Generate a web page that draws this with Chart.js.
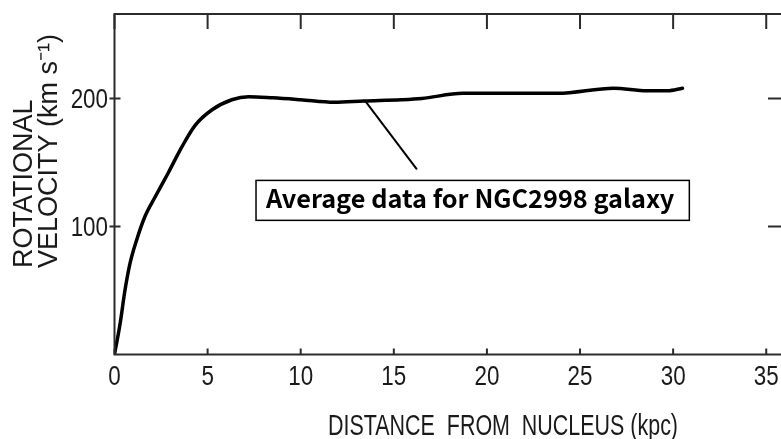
<!DOCTYPE html>
<html>
<head>
<meta charset="utf-8">
<title>NGC2998 rotation curve</title>
<script src="https://cdn.jsdelivr.net/npm/chart.js@4/dist/chart.umd.min.js"></script>
<style>
	html, body { margin: 0; padding: 0; overflow: hidden; background: #fff; }
	#wrap { width: 800px; height: 439px; }
</style>
</head>
<body>
<div id="wrap"><canvas id="myChart" width="800" height="439"></canvas></div>
<script>
// distance from nucleus (kpc) and rotational velocity (km/s)
const distance = [0, 0.3, 0.56, 0.83, 1.19, 1.64, 2.18, 2.89, 3.61, 4.33, 5.22, 6.3, 7.2, 8.5, 10.0, 11.8, 13.4, 15.4, 16.5, 18.7, 21.4, 23.8, 26.8, 28.6, 29.7, 30.5];
const velocity = [0, 24, 50, 71, 89.5, 108, 123, 142, 162, 179, 191, 199, 201.4, 200.5, 199, 197, 198, 199, 200, 204, 204, 204, 208, 206, 206, 208];

const xTicks = [0, 5, 10, 15, 20, 25, 30, 35];
const yTicks = [100, 200];

const X_TITLE = "DISTANCE  FROM  NUCLEUS (kpc)";
const Y_TITLE = ["ROTATIONAL", "VELOCITY (km s\u207B\u00B9)"];
const NOTE_TEXT = "Average data for NGC2998 galaxy";

const INK = "#1a1a1a";
const LABEL_FONT = "28px 'Liberation Sans', Arial, sans-serif";
const SQUEEZE = 0.8; // the lettering on the original is narrow


// frame with inward ticks on all four sides (right side sits just off the page)
const frameTicks = {
	id: "frameTicks",
	afterDraw(chart) {
		const ctx = chart.ctx;
		const a = chart.chartArea;
		const xs = chart.scales.x;
		const ys = chart.scales.y;
		ctx.save();
		ctx.strokeStyle = "#2b2b2b";
		ctx.lineWidth = 2;
		ctx.strokeRect(a.left, a.top, a.right - a.left, a.bottom - a.top);
		ctx.beginPath();
		for (const t of xs.ticks) {
			const px = xs.getPixelForValue(t.value);
			ctx.moveTo(px, a.bottom);
			ctx.lineTo(px, a.bottom - 6);
			ctx.moveTo(px, a.top);
			ctx.lineTo(px, a.top + 15);
		}
		for (const t of ys.ticks) {
			const py = ys.getPixelForValue(t.value);
			ctx.moveTo(a.left - 5, py);
			ctx.lineTo(a.left + 6, py);
			ctx.moveTo(a.right, py);
			ctx.lineTo(a.right - 15, py);
		}
		ctx.stroke();

		// tick numbers, narrowed like the hand lettering
		ctx.fillStyle = INK;
		ctx.font = LABEL_FONT;
		ctx.textBaseline = "alphabetic";
		ctx.textAlign = "center";
		for (const t of xs.ticks) {
			ctx.save();
			ctx.translate(xs.getPixelForValue(t.value), a.bottom + 30.5);
			ctx.scale(SQUEEZE, 1);
			ctx.fillText(String(t.value), 0, 0);
			ctx.restore();
		}
		ctx.textAlign = "right";
		for (const t of ys.ticks) {
			ctx.save();
			ctx.translate(a.left - 6.5, ys.getPixelForValue(t.value) + 10);
			ctx.scale(SQUEEZE, 1);
			ctx.fillText(String(t.value), 0, 0);
			ctx.restore();
		}
		ctx.restore();
	}
};

// axis titles drawn by hand: condensed x title, two y lines starting at the same point
const axisTitles = {
	id: "axisTitles",
	afterDraw(chart) {
		const ctx = chart.ctx;
		ctx.save();
		ctx.fillStyle = INK;
		ctx.font = "30px 'Liberation Sans', Arial, sans-serif";
		ctx.textAlign = "center";
		ctx.textBaseline = "alphabetic";
		const squeeze = 350 / ctx.measureText(X_TITLE).width;
		ctx.save();
		ctx.translate(503, 435);
		ctx.scale(squeeze, 1);
		ctx.fillText(X_TITLE, 0, 0);
		ctx.restore();

		ctx.font = "27px 'Liberation Sans', Arial, sans-serif";
		ctx.textAlign = "left";
		const baselines = [32, 57];
		for (let i = 0; i < Y_TITLE.length; i++) {
			ctx.save();
			ctx.translate(baselines[i], 268);
			ctx.rotate(-Math.PI / 2);
			ctx.fillText(Y_TITLE[i], 0, 0);
			ctx.restore();
		}
		ctx.restore();
	}
};

// callout box with a pointer to the curve, placed in data units
const callout = {
	id: "callout",
	afterDatasetsDraw(chart) {
		const ctx = chart.ctx;
		const xs = chart.scales.x;
		const ys = chart.scales.y;
		ctx.save();
		ctx.strokeStyle = "#000";
		ctx.lineWidth = 2;
		ctx.beginPath();
		ctx.moveTo(xs.getPixelForValue(13.46), ys.getPixelForValue(198.2));
		ctx.lineTo(xs.getPixelForValue(16.24), ys.getPixelForValue(144.7));
		ctx.stroke();

		const left = xs.getPixelForValue(7.6);
		const right = xs.getPixelForValue(30.87);
		const top = ys.getPixelForValue(136);
		const bottom = ys.getPixelForValue(104.8);
		ctx.fillStyle = "#fff";
		ctx.fillRect(left, top, right - left, bottom - top);
		ctx.lineWidth = 1.5;
		ctx.strokeRect(left, top, right - left, bottom - top);

		ctx.fillStyle = "#000";
		ctx.font = "bold 25.3px 'Noto Sans CJK JP', 'Noto Sans', sans-serif";
		ctx.textAlign = "left";
		ctx.textBaseline = "alphabetic";
		ctx.fillText(NOTE_TEXT, left + 10, bottom - 12);
		ctx.restore();
	}
};


const points = distance.map((d, i) => ({ x: d, y: velocity[i] }));

new Chart("myChart", {
	type: "line",
	data: {
		datasets: [{
			label: "NGC2998",
			data: points,
			borderColor: "#000",
			borderWidth: 3.5,
			borderCapStyle: "round",
			pointRadius: 0,
			fill: false,
			cubicInterpolationMode: "monotone"
		}]
	},
	options: {
		responsive: false,
		animation: false,
		events: [],
		layout: { padding: { top: 14, right: 17, left: 0, bottom: 0 } },
		plugins: {
			legend: { display: false },
			tooltip: { enabled: false }
		},
		scales: {
			x: {
				type: "linear",
				min: 0,
				max: 35.9,
				grid: { display: false, drawTicks: false },
				border: { display: false },
				ticks: { display: false },
				afterBuildTicks: (scale) => { scale.ticks = xTicks.map(v => ({ value: v })); },
				afterFit: (scale) => {
					scale.height = 84.5;
					scale.paddingLeft = 0;
					scale.paddingRight = 0;
				}
			},
			y: {
				type: "linear",
				min: 0,
				max: 266,
				grid: { display: false, drawTicks: false },
				border: { display: false },
				ticks: { display: false },
				afterBuildTicks: (scale) => { scale.ticks = yTicks.map(v => ({ value: v })); },
				afterFit: (scale) => {
					scale.width = 114.5;
					scale.paddingTop = 0;
					scale.paddingBottom = 0;
				}
			}
		}
	},
	plugins: [frameTicks, axisTitles, callout]
});
</script>
</body>
</html>
